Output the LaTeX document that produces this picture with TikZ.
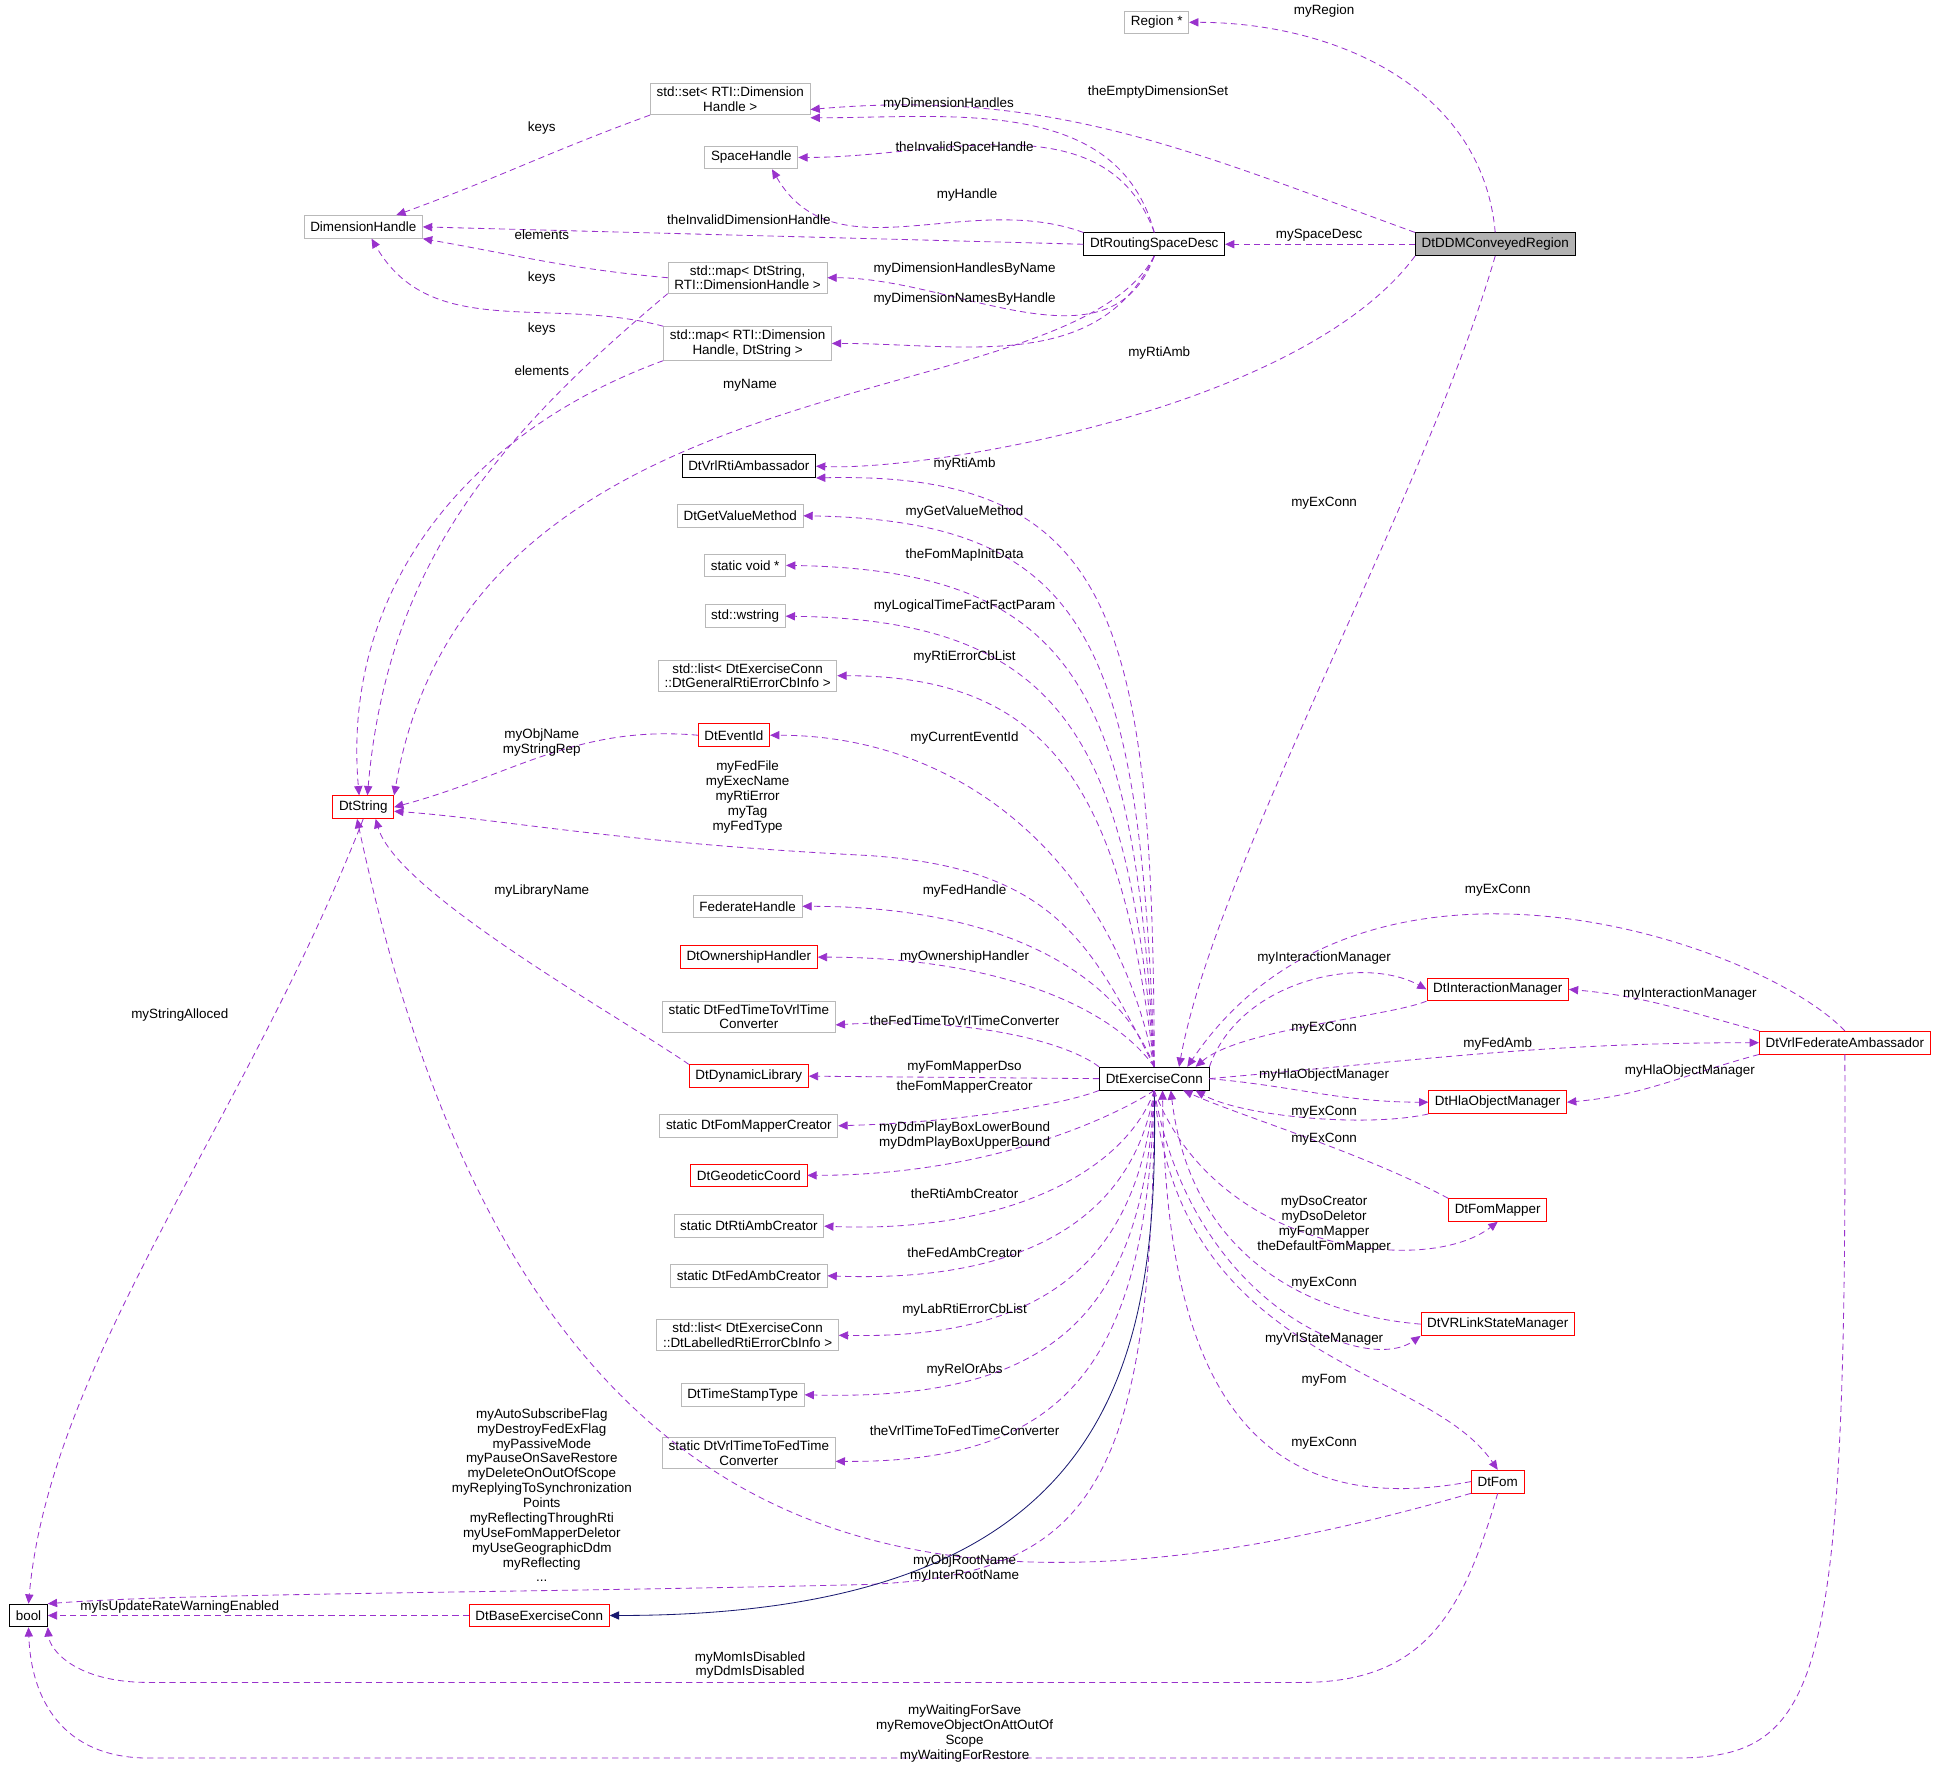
\documentclass[tikz,border=0pt]{standalone}
\usepackage{fontspec}
\setmainfont{Liberation Sans}
\usetikzlibrary{arrows.meta}

\definecolor{relcol}{RGB}{153,50,204}
\definecolor{inhcol}{RGB}{25,25,112}
\tikzset{
  cls/.style={draw, rectangle, inner xsep=3pt, inner ysep=1.5pt, minimum height=11pt,
    align=center, font=\fontsize{6.5}{7.2}\selectfont, fill=white},
  grayc/.style={cls, draw=gray!55},
  redc/.style={cls, draw=red},
  blackc/.style={cls, draw=black},
  rel/.style={draw=relcol, dash pattern=on 3pt off 2pt, -{Triangle[length=4.5pt,width=4pt]}},
  inh/.style={draw=inhcol, -{Triangle[length=4.5pt,width=4pt]}},
  lbl/.style={align=center, font=\fontsize{6.5}{7.2}\selectfont, inner sep=0pt}
}

\begin{document}
\begin{tikzpicture}[x=0.6pt, y=-0.6pt]
\useasboundingbox (0,0) rectangle (1568,1424);

% classes
\node[grayc] (region) at (933,18) {Region *};
\node[grayc] (dimset) at (589,80) {std::set\textless{} RTI::Dimension\\Handle \textgreater};
\node[grayc] (spaceh) at (606,127) {SpaceHandle};
\node[grayc] (dimh) at (293,183) {DimensionHandle};
\node[blackc] (rsd) at (931,197) {DtRoutingSpaceDesc};
\node[blackc, fill=gray!60] (ddm) at (1206,197) {DtDDMConveyedRegion};
\node[grayc] (mapa) at (603,224) {std::map\textless{} DtString,\\ RTI::DimensionHandle \textgreater};
\node[grayc] (mapb) at (603,277) {std::map\textless{} RTI::Dimension\\Handle, DtString \textgreater};
\node[redc] (dtstring) at (293,651) {DtString};
\node[blackc] (vrlamb) at (604,376) {DtVrlRtiAmbassador};
\node[grayc] (getval) at (597,416) {DtGetValueMethod};
\node[grayc] (svoid) at (601,456) {static void *};
\node[grayc] (wstr) at (601,497) {std::wstring};
\node[grayc] (lista) at (603,545) {std::list\textless{} DtExerciseConn\\::DtGeneralRtiErrorCbInfo \textgreater};
\node[redc] (eventid) at (592,593) {DtEventId};
\node[grayc] (fedh) at (603,731) {FederateHandle};
\node[redc] (owner) at (604,772) {DtOwnershipHandler};
\node[grayc] (fedtovrl) at (604,820) {static DtFedTimeToVrlTime\\Converter};
\node[redc] (dynlib) at (604,868) {DtDynamicLibrary};
\node[grayc] (fmcreator) at (604,908) {static DtFomMapperCreator};
\node[redc] (geo) at (604,948) {DtGeodeticCoord};
\node[grayc] (rticreator) at (604,989) {static DtRtiAmbCreator};
\node[grayc] (fedcreator) at (604,1029) {static DtFedAmbCreator};
\node[grayc] (listb) at (603,1077) {std::list\textless{} DtExerciseConn\\::DtLabelledRtiErrorCbInfo \textgreater};
\node[grayc] (tstamp) at (599,1125) {DtTimeStampType};
\node[grayc] (vrltofed) at (604,1172) {static DtVrlTimeToFedTime\\Converter};
\node[blackc] (exconn) at (931,870) {DtExerciseConn};
\node[redc] (intmgr) at (1208,798) {DtInteractionManager};
\node[redc] (fedamb) at (1488,841) {DtVrlFederateAmbassador};
\node[redc] (hlamgr) at (1208,889) {DtHlaObjectManager};
\node[redc] (fommap) at (1208,976) {DtFomMapper};
\node[redc] (vrlink) at (1208,1068) {DtVRLinkStateManager};
\node[redc] (fom) at (1208,1195) {DtFom};
\node[blackc] (bool) at (23,1303) {bool};
\node[redc] (baseconn) at (435,1303) {DtBaseExerciseConn};

% top part
\draw[rel] (ddm.north) to[out=95,in=0] (region.east);
\draw[rel] (ddm.north west) to[out=160,in=5] ([yshift=-5pt]dimset.east);
\draw[rel] (rsd.north) to[out=105,in=0] ([yshift=-9pt]dimset.east);
\draw[rel] (rsd.north) to[out=110,in=0] (spaceh.east);
\draw[rel] (rsd.north west) to[out=160,in=-60] ([xshift=10pt]spaceh.south);
\draw[rel] (rsd.west) -- (dimh.east);
\draw[rel] (dimset.south west) to[out=200,in=20] ([xshift=16pt]dimh.north);
\draw[rel] (mapa.west) to[out=175,in=-10] (dimh.south east);
\draw[rel] (mapb.north west) to[out=165,in=-60] ([xshift=4pt]dimh.south);
\draw[rel] (mapa.south west) to[out=-140,in=85] ([xshift=2pt]dtstring.north);
\draw[rel] (mapb.south west) to[out=-160,in=95] ([xshift=-2pt]dtstring.north);
\draw[rel] (rsd.south) to[out=-110,in=0] (mapa.east);
\draw[rel] (rsd.south) to[out=-115,in=0] (mapb.east);
\draw[rel] (rsd.south) .. controls (860,340) and (380,280) .. (dtstring.north east);
\draw[rel] (ddm.west) -- (rsd.east);
\draw[rel] (ddm.south west) .. controls (1050,330) and (750,380) .. (vrlamb.east);
\draw[rel] (ddm.south) .. controls (1150,400) and (980,700) .. ([xshift=12pt]exconn.north);

% DtExerciseConn members
\draw[rel] (exconn.north) .. controls (930,500) and (900,380) .. (vrlamb.south east);
\draw[rel] (exconn.north) .. controls (920,520) and (880,420) .. (getval.east);
\draw[rel] (exconn.north) .. controls (915,560) and (870,460) .. (svoid.east);
\draw[rel] (exconn.north) .. controls (910,600) and (860,500) .. (wstr.east);
\draw[rel] (exconn.north) .. controls (905,640) and (850,545) .. (lista.east);
\draw[rel] (exconn.north) .. controls (900,700) and (780,593) .. (eventid.east);
\draw[rel] (eventid.west) to[out=175,in=15] (dtstring.east);
\draw[rel] (exconn.north) .. controls (880,760) and (850,700) .. (700,690) .. controls (500,680) and (400,660) .. ([yshift=-2pt]dtstring.east);
\draw[rel] (exconn.north) .. controls (900,780) and (800,731) .. (fedh.east);
\draw[rel] (exconn.north) .. controls (895,810) and (800,772) .. (owner.east);
\draw[rel] (exconn.north west) .. controls (860,840) and (780,820) .. ([yshift=-4pt]fedtovrl.east);
\draw[rel] (exconn.west) -- (dynlib.east);
\draw[rel] (dynlib.north west) .. controls (500,820) and (320,720) .. ([xshift=6pt]dtstring.south);
\draw[rel] (exconn.south west) .. controls (860,890) and (780,905) .. (fmcreator.east);
\draw[rel] (exconn.south) .. controls (900,900) and (800,948) .. (geo.east);
\draw[rel] (exconn.south) .. controls (910,940) and (820,995) .. (rticreator.east);
\draw[rel] (exconn.south) .. controls (915,980) and (830,1035) .. (fedcreator.east);
\draw[rel] (exconn.south) .. controls (918,1020) and (840,1080) .. (listb.east);
\draw[rel] (exconn.south) .. controls (922,1060) and (850,1130) .. (tstamp.east);
\draw[rel] (exconn.south) .. controls (925,1100) and (860,1180) .. ([yshift=-4pt]vrltofed.east);
\draw[rel] (exconn.south) .. controls (930,1200) and (880,1270) .. (700,1278) .. controls (400,1285) and (150,1285) .. (bool.north east);
\draw[inh] (exconn.south) .. controls (935,1100) and (900,1303) .. (baseconn.east);
\draw[rel] (baseconn.west) -- (bool.east);
\draw[rel] (dtstring.south) .. controls (200,900) and (40,1100) .. (bool.north);
\draw[rel] (fom.south west) .. controls (750,1330) and (420,1280) .. ([xshift=-3pt]dtstring.south);
\draw[rel] (fom.south) .. controls (1180,1300) and (1150,1357) .. (1050,1357) -- (120,1357) .. controls (60,1357) and (40,1330) .. (bool.south east);
\draw[rel] (fedamb.south) .. controls (1490,1360) and (1470,1418) .. (1350,1418) -- (120,1418) .. controls (50,1418) and (25,1370) .. (bool.south);

% right side
\draw[rel] (fedamb.north) .. controls (1420,760) and (1100,650) .. ([xshift=16pt]exconn.north);
\draw[rel] (fedamb.north west) to[out=165,in=-5] (intmgr.east);
\draw[rel] (fedamb.south west) to[out=-165,in=5] (hlamgr.east);
\draw[rel] (exconn.east) to[out=5,in=180] (fedamb.west);
\draw[rel] (exconn.north east) .. controls (1000,790) and (1100,770) .. (intmgr.west);
\draw[rel] (intmgr.south west) .. controls (1120,820) and (1000,830) .. ([xshift=20pt]exconn.north);
\draw[rel] (exconn.east) to[out=-5,in=180] (hlamgr.west);
\draw[rel] (hlamgr.south west) .. controls (1100,910) and (1000,900) .. ([xshift=20pt]exconn.south);
\draw[rel] (fommap.north west) .. controls (1100,930) and (1000,900) .. ([xshift=14pt]exconn.south);
\draw[rel] (exconn.south) .. controls (980,1010) and (1150,1030) .. (fommap.south);
\draw[rel] (vrlink.west) .. controls (1050,1060) and (960,1010) .. ([xshift=8pt]exconn.south);
\draw[rel] (exconn.south) .. controls (960,1050) and (1100,1110) .. (vrlink.south west);
\draw[rel] (exconn.south) .. controls (950,1100) and (1150,1100) .. (fom.north);
\draw[rel] (fom.west) .. controls (1000,1230) and (940,1100) .. ([xshift=4pt]exconn.south);

% labels
\node[lbl] (l1) at (1068,9) {myRegion};
\node[lbl] (l2) at (934,74) {theEmptyDimensionSet};
\node[lbl] (l3) at (765,84) {myDimensionHandles};
\node[lbl] (l4) at (778,119) {theInvalidSpaceHandle};
\node[lbl] (l5) at (780,157) {myHandle};
\node[lbl] (l6) at (604,177) {theInvalidDimensionHandle};
\node[lbl] (l7) at (437,103) {keys};
\node[lbl] (l8) at (437,189) {elements};
\node[lbl] (l9) at (437,224) {keys};
\node[lbl] (l10) at (437,265) {keys};
\node[lbl] (l11) at (437,299) {elements};
\node[lbl] (l12) at (778,217) {myDimensionHandlesByName};
\node[lbl] (l13) at (778,241) {myDimensionNamesByHandle};
\node[lbl] (l14) at (605,311) {myName};
\node[lbl] (l15) at (1064,190) {mySpaceDesc};
\node[lbl] (l16) at (935,285) {myRtiAmb};
\node[lbl] (l17) at (1068,406) {myExConn};
\node[lbl] (l18) at (778,374) {myRtiAmb};
\node[lbl] (l19) at (778,413) {myGetValueMethod};
\node[lbl] (l20) at (778,448) {theFomMapInitData};
\node[lbl] (l21) at (778,489) {myLogicalTimeFactFactParam};
\node[lbl] (l22) at (778,530) {myRtiErrorCbList};
\node[lbl] (l23) at (778,595) {myCurrentEventId};
\node[lbl] (l24) at (437,599) {myObjName\\myStringRep};
\node[lbl] (l25) at (603,643) {myFedFile\\myExecName\\myRtiError\\myTag\\myFedType};
\node[lbl] (l26) at (778,719) {myFedHandle};
\node[lbl] (l27) at (778,772) {myOwnershipHandler};
\node[lbl] (l28) at (778,823) {theFedTimeToVrlTimeConverter};
\node[lbl] (l29) at (778,861) {myFomMapperDso};
\node[lbl] (l30) at (437,719) {myLibraryName};
\node[lbl] (l31) at (778,877) {theFomMapperCreator};
\node[lbl] (l32) at (778,916) {myDdmPlayBoxLowerBound\\myDdmPlayBoxUpperBound};
\node[lbl] (l33) at (778,963) {theRtiAmbCreator};
\node[lbl] (l34) at (778,1010) {theFedAmbCreator};
\node[lbl] (l35) at (778,1057) {myLabRtiErrorCbList};
\node[lbl] (l36) at (778,1105) {myRelOrAbs};
\node[lbl] (l37) at (778,1154) {theVrlTimeToFedTimeConverter};
\node[lbl] (l38) at (437,1206) {myAutoSubscribeFlag\\myDestroyFedExFlag\\myPassiveMode\\myPauseOnSaveRestore\\myDeleteOnOutOfScope\\myReplyingToSynchronization\\Points\\myReflectingThroughRti\\myUseFomMapperDeletor\\myUseGeographicDdm\\myReflecting\\...};
\node[lbl] (l40) at (145,1296) {myIsUpdateRateWarningEnabled};
\node[lbl] (l41) at (145,819) {myStringAlloced};
\node[lbl] (l42) at (778,1265) {myObjRootName\\myInterRootName};
\node[lbl] (l43) at (605,1343) {myMomIsDisabled\\myDdmIsDisabled};
\node[lbl] (l44) at (778,1398) {myWaitingForSave\\myRemoveObjectOnAttOutOf\\Scope\\myWaitingForRestore};
\node[lbl] (l45) at (1208,718) {myExConn};
\node[lbl] (l46) at (1363,802) {myInteractionManager};
\node[lbl] (l47) at (1363,864) {myHlaObjectManager};
\node[lbl] (l48) at (1208,842) {myFedAmb};
\node[lbl] (l49) at (1068,773) {myInteractionManager};
\node[lbl] (l50) at (1068,829) {myExConn};
\node[lbl] (l51) at (1068,867) {myHlaObjectManager};
\node[lbl] (l52) at (1068,897) {myExConn};
\node[lbl] (l53) at (1068,919) {myExConn};
\node[lbl] (l54) at (1068,988) {myDsoCreator\\myDsoDeletor\\myFomMapper\\theDefaultFomMapper};
\node[lbl] (l55) at (1068,1035) {myExConn};
\node[lbl] (l56) at (1068,1080) {myVrlStateManager};
\node[lbl] (l57) at (1068,1113) {myFom};
\node[lbl] (l58) at (1068,1164) {myExConn};
\end{tikzpicture}
\end{document}
